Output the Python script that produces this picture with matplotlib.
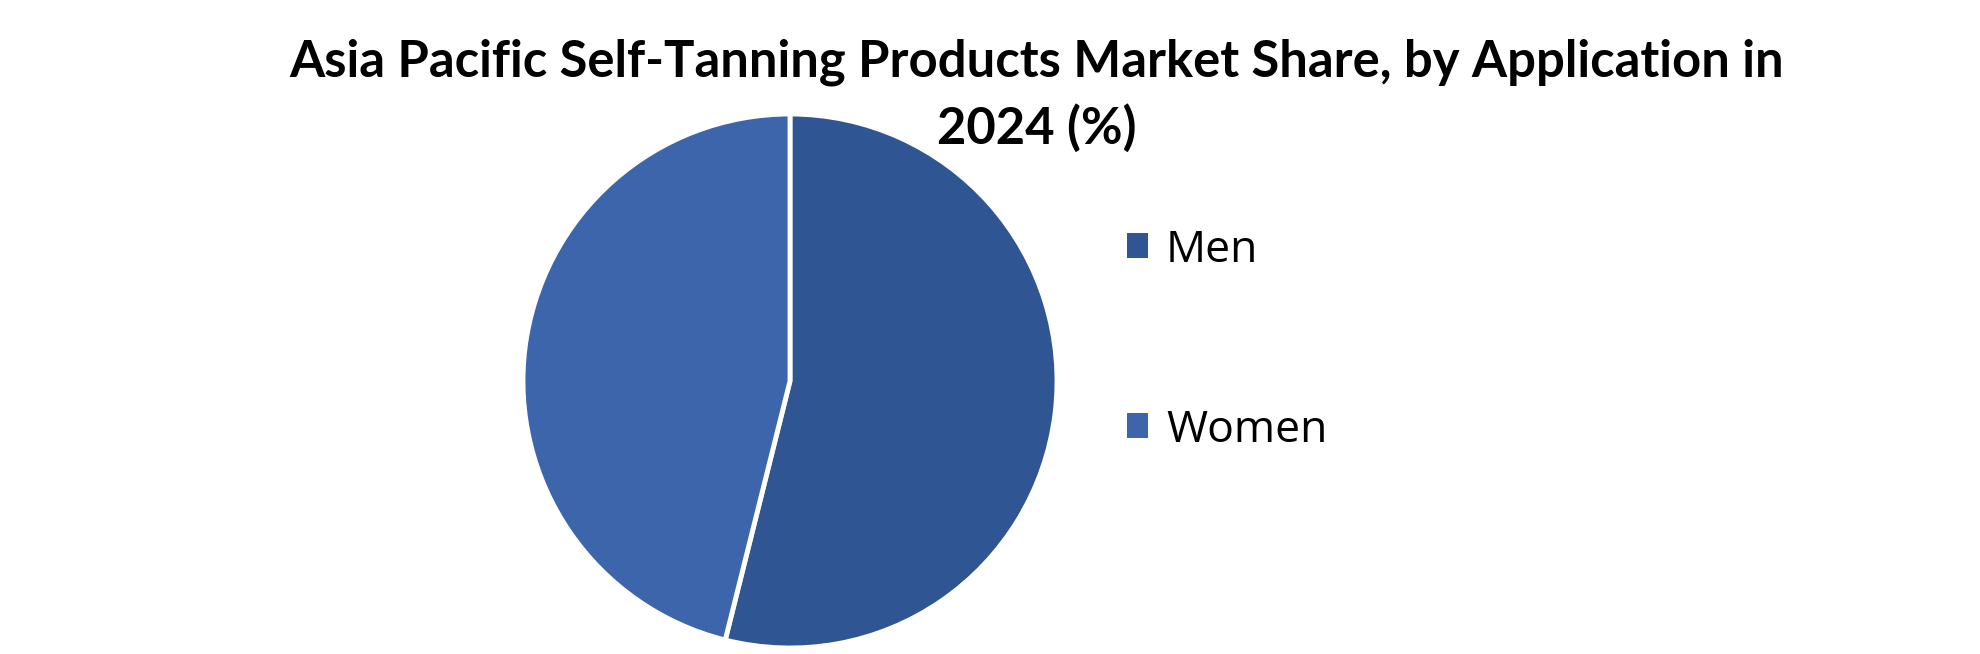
import matplotlib
matplotlib.use("Agg")
import matplotlib.pyplot as plt
from matplotlib.patches import Patch

categories = ["Men", "Women"]
shares = [53.9, 46.1]
colors = ["#2F5593", "#3C65AC"]
title = "Asia Pacific Self-Tanning Products Market Share, by Application in\n2024 (%)"

W, H = 1980, 654
fig = plt.figure(figsize=(W / 100, H / 100), dpi=100)

cx, cy, r = 790, 381, 267
ax = fig.add_axes([(cx - r) / W, (H - cy - r) / H, 2 * r / W, 2 * r / H])
ax.pie(shares, colors=colors, startangle=90, counterclock=False, radius=1,
       wedgeprops=dict(edgecolor="white", linewidth=3.5))
ax.set_xlim(-1, 1)
ax.set_ylim(-1, 1)
ax.set_aspect("equal")
ax.axis("off")

fig.text(1037 / W, 1 - 96 / H, title, ha="center", va="center",
         fontsize=36.5, fontweight="bold", family=["Lato", "DejaVu Sans"],
         linespacing=1.45)

handles = [Patch(facecolor=c, edgecolor="none") for c in colors]
fig.legend(handles, categories, loc="upper left",
           bbox_to_anchor=(1127 / W, 1 - 228 / H), frameon=False,
           prop=dict(family=["Open Sans", "DejaVu Sans"], size=32),
           labelspacing=3.05, handlelength=0.48, handleheight=0.48,
           handletextpad=0.4, borderpad=0, borderaxespad=0)

fig.savefig("out.png", dpi=100, facecolor="white")
